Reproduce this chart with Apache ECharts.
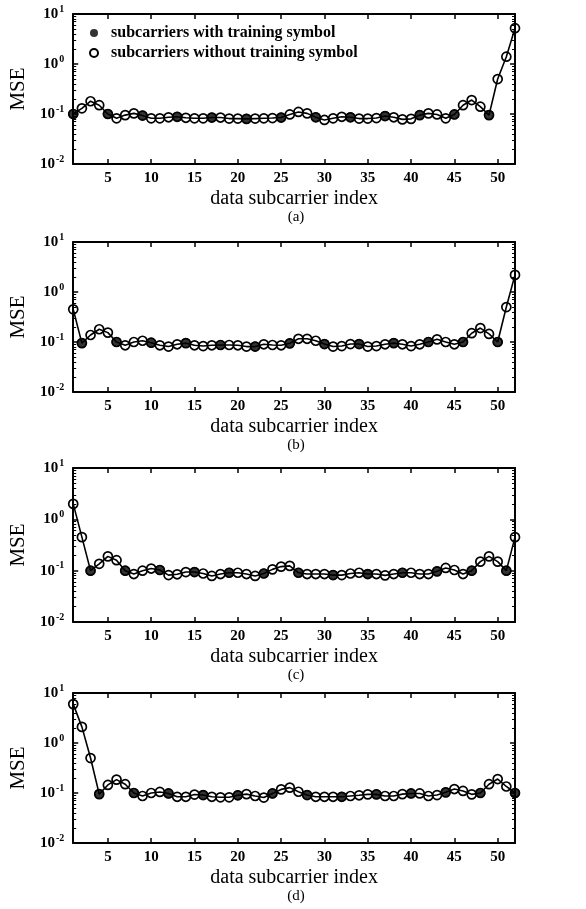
<!DOCTYPE html>
<html>
<head>
<meta charset="utf-8">
<script src="https://cdn.jsdelivr.net/npm/echarts@6/dist/echarts.min.js"></script>
<style>
html,body{margin:0;padding:0;background:#fff;}
#c{width:586px;height:909px;}
</style>
</head>
<body>
<div id="c"></div>
<script>
// ---- data ----
const subcarrier = [1,2,3,4,5,6,7,8,9,10,11,12,13,14,15,16,17,18,19,20,21,22,23,24,25,26,
  27,28,29,30,31,32,33,34,35,36,37,38,39,40,41,42,43,44,45,46,47,48,49,50,51,52];
const xTickLabels = [5,10,15,20,25,30,35,40,45,50];
const panelLabels = ['(a)','(b)','(c)','(d)'];

const mseA = [0.10,0.13,0.18,0.15,0.10,0.082,0.095,0.103,0.093,0.082,
  0.082,0.086,0.088,0.084,0.082,0.082,0.085,0.085,0.081,0.081,
  0.080,0.081,0.082,0.083,0.085,0.098,0.11,0.103,0.086,0.076,
  0.082,0.088,0.086,0.081,0.081,0.083,0.091,0.086,0.078,0.080,
  0.095,0.103,0.098,0.082,0.098,0.15,0.19,0.14,0.095,0.5,
  1.4,5.2];
const mseB = [0.45,0.095,0.138,0.18,0.154,0.10,0.086,0.10,0.106,0.097,
  0.086,0.081,0.09,0.095,0.086,0.083,0.086,0.087,0.087,0.086,
  0.081,0.081,0.09,0.087,0.086,0.094,0.116,0.116,0.106,0.091,
  0.081,0.083,0.091,0.091,0.081,0.083,0.09,0.095,0.09,0.083,
  0.09,0.10,0.113,0.10,0.09,0.10,0.15,0.19,0.145,0.10,
  0.5,2.2];
const mseC = [2.0,0.45,0.10,0.136,0.19,0.16,0.10,0.086,0.10,0.11,
  0.103,0.082,0.085,0.094,0.094,0.088,0.079,0.086,0.091,0.091,
  0.086,0.079,0.088,0.106,0.12,0.124,0.091,0.086,0.086,0.086,
  0.082,0.082,0.088,0.091,0.086,0.086,0.081,0.086,0.091,0.091,
  0.086,0.086,0.097,0.113,0.103,0.086,0.10,0.15,0.19,0.15,
  0.10,0.45];
const mseD = [6.0,2.1,0.5,0.095,0.145,0.185,0.15,0.10,0.087,0.10,
  0.105,0.098,0.084,0.084,0.093,0.091,0.084,0.082,0.082,0.09,
  0.095,0.087,0.081,0.098,0.118,0.128,0.106,0.091,0.084,0.084,
  0.084,0.084,0.087,0.09,0.094,0.094,0.087,0.087,0.095,0.098,
  0.098,0.087,0.091,0.103,0.12,0.11,0.094,0.10,0.15,0.19,
  0.135,0.10];

const trainA = [1,5,9,13,17,21,25,29,33,37,41,45,49];
const trainB = [2,6,10,14,18,22,26,30,34,38,42,46,50];
const trainC = [3,7,11,15,19,23,27,31,35,39,43,47,51];
const trainD = [4,8,12,16,20,24,28,32,36,40,44,48,52];

const NAME_WITH = 'subcarriers with training symbol';
const NAME_WITHOUT = 'subcarriers without training symbol';

// ---- layout ----
const FONT = '"Liberation Serif", "DejaVu Serif", serif';
const grids = [
  {left:67, width:448, top:14, height:150},
  {left:67, width:448, top:242, height:150},
  {left:67, width:448, top:468, height:154},
  {left:67, width:448, top:693, height:150}
];
const panels = [
  {mse:mseA, train:trainA},
  {mse:mseB, train:trainB},
  {mse:mseC, train:trainC},
  {mse:mseD, train:trainD}
];
const minorVals = [];
[0.01,0.1,1].forEach(d => { for (let k=2;k<=9;k++) minorVals.push(+(d*k).toPrecision(3)); });

const xAxes = [], yAxes = [], series = [], titles = [];
grids.forEach((g, i) => {
  const common = {type:'value', gridIndex:i, min:1, max:52, splitLine:{show:false},
    axisLine:{show:true, onZero:false, lineStyle:{color:'#000', width:2}}};
  xAxes.push(Object.assign({}, common, {
    position:'bottom',
    name:'data subcarrier index', nameLocation:'middle', nameGap:25,
    nameTextStyle:{fontFamily:FONT, fontSize:20, color:'#000'},
    axisTick:{show:true, inside:true, length:5, customValues:xTickLabels, lineStyle:{color:'#000', width:1.5}},
    axisLabel:{show:true, customValues:xTickLabels, margin:7, fontFamily:FONT, fontSize:15, fontWeight:'bold', color:'#000'}
  }));
  xAxes.push(Object.assign({}, common, {
    position:'top',
    axisTick:{show:true, inside:true, length:5, customValues:xTickLabels, lineStyle:{color:'#000', width:1.5}},
    axisLabel:{show:false}
  }));
  const ycommon = {type:'log', logBase:10, gridIndex:i, min:0.01, max:10, interval:1, splitLine:{show:false},
    axisLine:{show:true, onZero:false, lineStyle:{color:'#000', width:2}}};
  yAxes.push(Object.assign({}, ycommon, {
    position:'left',
    name:'MSE', nameLocation:'middle', nameGap:27,
    nameTextStyle:{fontFamily:FONT, fontSize:21, color:'#000'},
    axisTick:{show:true, inside:true, length:5, lineStyle:{color:'#000', width:1.5}},
    axisLabel:{show:true, margin:9, fontFamily:FONT, color:'#000',
      formatter: v => '{a|10}{b|' + Math.round(Math.log10(v)) + '}',
      rich:{a:{fontFamily:FONT, fontSize:15, fontWeight:'bold', color:'#000'},
            b:{fontFamily:FONT, fontSize:10, fontWeight:'bold', color:'#000', verticalAlign:'top', padding:[0,0,10,1]}}}
  }));
  yAxes.push(Object.assign({}, ycommon, {
    position:'right',
    axisTick:{show:true, inside:true, length:5, lineStyle:{color:'#000', width:1.5}},
    axisLabel:{show:false}
  }));
  yAxes.push(Object.assign({}, ycommon, {
    position:'left', axisLine:{show:false},
    axisTick:{show:true, inside:true, length:3, customValues:minorVals, lineStyle:{color:'#000', width:1}},
    axisLabel:{show:false}
  }));
  yAxes.push(Object.assign({}, ycommon, {
    position:'right', axisLine:{show:false},
    axisTick:{show:true, inside:true, length:3, customValues:minorVals, lineStyle:{color:'#000', width:1}},
    axisLabel:{show:false}
  }));

  const p = panels[i];
  series.push({
    type:'line', name:NAME_WITHOUT, xAxisIndex:2*i, yAxisIndex:4*i,
    data: subcarrier.map((x, k) => [x, p.mse[k]]),
    lineStyle:{color:'#000', width:1.6},
    symbol:'circle', symbolSize:9,
    itemStyle:{color:'rgba(255,255,255,0)', borderColor:'#000', borderWidth:1.7},
    emphasis:{disabled:true}, silent:true, animation:false, z:2
  });
  series.push({
    type:'scatter', name:NAME_WITH, xAxisIndex:2*i, yAxisIndex:4*i,
    data: p.train.map(x => [x, p.mse[x-1]]),
    symbol:'circle', symbolSize:10,
    itemStyle:{color:'#000', borderColor:'#000', borderWidth:0},
    emphasis:{disabled:true}, silent:true, animation:false, z:3
  });
  titles.push({
    text: panelLabels[i], left: g.left + g.width/2, textAlign:'center',
    top: g.top + g.height + 41,
    textStyle:{fontFamily:FONT, fontSize:15, fontWeight:'normal', color:'#000'}
  });
});

const chart = echarts.init(document.getElementById('c'), null, {renderer:'canvas'});
chart.setOption({
  backgroundColor:'#fff',
  animation:false,
  title: titles,
  grid: grids,
  xAxis: xAxes,
  yAxis: yAxes,
  legend: {
    show:true, orient:'vertical', left:84, top:20,
    itemWidth:8, itemHeight:8, itemGap:4,
    textStyle:{fontFamily:FONT, fontSize:16, fontWeight:'bold', color:'#000', padding:[0,0,0,8]},
    data:[
      {name:NAME_WITH, icon:'circle', itemStyle:{color:'#000', borderWidth:0}},
      {name:NAME_WITHOUT, icon:'circle', itemStyle:{color:'#fff', borderColor:'#000', borderWidth:2}}
    ]
  },
  series: series
});
</script>
</body>
</html>
